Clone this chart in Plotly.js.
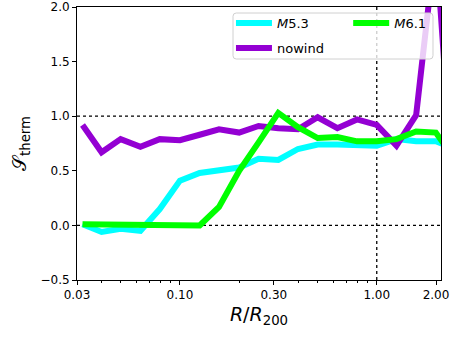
<!DOCTYPE html>
<html>
<head>
<meta charset="utf-8">
<script src="https://cdn.plot.ly/plotly-3.0.1.min.js"></script>
<style>
  html, body { margin: 0; padding: 0; background: #fff; }
  #chart { width: 450px; height: 337px; }
</style>
</head>
<body>
<div id="chart"></div>
<script>
// radial bins (R/R200), one value per bin for each run
const radius = [0.032, 0.040, 0.050, 0.063, 0.079, 0.100, 0.126, 0.158, 0.200, 0.251,
                0.316, 0.398, 0.501, 0.631, 0.794, 1.000, 1.259, 1.585, 1.995, 2.512];

const m53 = [0.01, -0.06, -0.03, -0.05, 0.15, 0.41, 0.48, 0.51, 0.53, 0.61,
             0.60, 0.70, 0.74, 0.74, 0.73, 0.73, 0.79, 0.77, 0.77, 0.70];
const nowind = [0.92, 0.67, 0.79, 0.72, 0.79, 0.78, 0.83, 0.88, 0.85, 0.91,
                0.89, 0.88, 0.99, 0.89, 0.97, 0.92, 0.73, 1.01, 2.60, 0.00];
const m61 = [0.01, 0.01, 0.005, 0.0, 0.0, 0.0, 0.0, 0.17, 0.50, 0.76,
             1.03, 0.90, 0.80, 0.81, 0.77, 0.77, 0.79, 0.86, 0.85, 0.60];

const xTickVals = [0.03, 0.1, 0.3, 1, 2];
const xTickText = ['0.03', '0.10', '0.30', '1.00', '2.00'];
const xMinorVals = [0.04, 0.05, 0.06, 0.07, 0.08, 0.09, 0.2, 0.4, 0.5, 0.6, 0.7, 0.8, 0.9];

const font = 'DejaVu Sans, sans-serif';

// legend is two columns: M5.3 / nowind on the left, M6.1 on the right
const traceM53 = {
    x: radius, y: m53, type: 'scatter', mode: 'lines',
    name: '<i>M</i>5.3', legend: 'legend', legendgroup: 'a',
    line: { color: '#00ffff', width: 6 }
};
const traceNowind = {
    x: radius, y: nowind, type: 'scatter', mode: 'lines',
    name: 'nowind', legend: 'legend', legendgroup: 'b',
    line: { color: '#9400d3', width: 6 }
};
const traceM61 = {
    x: radius, y: m61, type: 'scatter', mode: 'lines',
    name: '<i>M</i>6.1', legend: 'legend2',
    line: { color: '#00ff00', width: 6 }
};

const dotted = { color: 'black', width: 1.3, dash: '3px,3px' };

const legendBase = {
    yanchor: 'top', xanchor: 'left', y: 0.996,
    bgcolor: 'rgba(0,0,0,0)', borderwidth: 0,
    tracegroupgap: 5, itemwidth: 36,
    font: { family: font, size: 13 }
};

// rounded legend frame in paper coordinates
const bx0 = 0.4286, bx1 = 0.978, by0 = 0.8095, by1 = 0.978, rx = 0.009, ry = 0.012;
const framePath = `M${bx0 + rx},${by1} L${bx1 - rx},${by1} Q${bx1},${by1} ${bx1},${by1 - ry} ` +
    `L${bx1},${by0 + ry} Q${bx1},${by0} ${bx1 - rx},${by0} L${bx0 + rx},${by0} ` +
    `Q${bx0},${by0} ${bx0},${by0 + ry} L${bx0},${by1 - ry} Q${bx0},${by1} ${bx0 + rx},${by1} Z`;

const layout = {
    width: 450, height: 337,
    margin: { l: 77, r: 9, t: 7, b: 57 },
    paper_bgcolor: 'white', plot_bgcolor: 'white',
    font: { family: font, size: 12, color: 'black' },
    showlegend: true,
    legend: Object.assign({}, legendBase, { x: 0.423 }),
    legend2: Object.assign({}, legendBase, { x: 0.745 }),
    xaxis: {
        type: 'log', range: [Math.log10(0.03), Math.log10(2.12)],
        tickmode: 'array', tickvals: xTickVals, ticktext: xTickText,
        ticks: 'outside', ticklen: 4, tickcolor: 'black',
        minor: { tickmode: 'array', tickvals: xMinorVals, ticks: 'outside', ticklen: 2, tickcolor: 'black' },
        showgrid: false, zeroline: false,
        showline: true, linecolor: 'black', linewidth: 1, mirror: true,
        title: { text: '<i>R</i>/<i>R</i><sub>200</sub>', font: { family: font, size: 19 }, standoff: 6 }
    },
    yaxis: {
        range: [-0.5, 2.0], dtick: 0.5, tickformat: '.1f',
        ticks: 'outside', ticklen: 4, tickcolor: 'black',
        showgrid: false, zeroline: false,
        showline: true, linecolor: 'black', linewidth: 1, mirror: true,
        title: { text: '𝒮<sub>therm</sub>', font: { family: font, size: 19 }, standoff: 8 }
    },
    shapes: [
        { type: 'line', xref: 'paper', x0: 0, x1: 1, yref: 'y', y0: 0, y1: 0, line: dotted, layer: 'below' },
        { type: 'line', xref: 'paper', x0: 0, x1: 1, yref: 'y', y0: 1, y1: 1, line: dotted, layer: 'below' },
        { type: 'line', xref: 'x', x0: 1, x1: 1, yref: 'paper', y0: 0, y1: 1, line: dotted, layer: 'below' },
        { type: 'path', xref: 'paper', yref: 'paper', path: framePath, layer: 'above',
          fillcolor: 'rgba(255,255,255,0.8)', line: { color: '#d0d0d0', width: 1 } }
    ]
};

Plotly.newPlot('chart', [traceM53, traceNowind, traceM61], layout, { displayModeBar: false, staticPlot: true });
</script>
</body>
</html>
